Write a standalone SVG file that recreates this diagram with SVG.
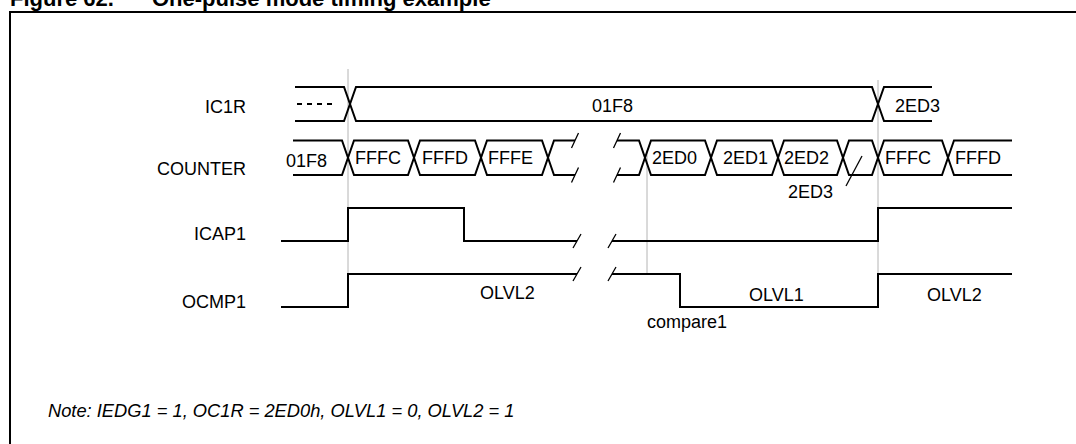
<svg xmlns="http://www.w3.org/2000/svg" width="1076" height="444" viewBox="0 0 1076 444">
<style>
.sig{fill:none;stroke:#000;stroke-width:2;stroke-linejoin:miter}
.sl{fill:none;stroke:#000;stroke-width:1.3}
.gr{fill:none;stroke:#b4b4b4;stroke-width:1}
.t{font-family:"Liberation Sans",Arial,sans-serif;font-size:18px;fill:#000}
.lb{text-anchor:end}
.note{font-style:italic;font-size:18.3px}
.ti{font-family:"Liberation Sans",Arial,sans-serif;font-size:22px;font-weight:bold;fill:#000}
</style>
<rect width="1076" height="444" fill="#fff"/>
<g id="title">
<text class="ti" x="10" y="6">Figure 62.</text>
<text class="ti" x="152" y="6">One-pulse mode timing example</text>
</g>
<path id="frame" d="M10,446 V12 H1078" fill="none" stroke="#000" stroke-width="2"/>
<g id="guides">
<path class="gr" d="M348,69 V274 M647,150 V274 M878,80 V274"/>
</g>
<g id="labels">
<text class="t lb" x="246" y="113">IC1R</text>
<text class="t lb" x="246" y="175">COUNTER</text>
<text class="t lb" x="246" y="240">ICAP1</text>
<text class="t lb" x="246" y="308">OCMP1</text>
</g>
<g id="ic1r">
<path class="sig" d="M295,87 H344 L356,121 H872 L884,87 H932"/>
<path class="sig" d="M295,121 H344 L356,87 H872 L884,121 H932"/>
<path class="sig" d="M297,104 H337" stroke-dasharray="5,5" stroke-width="1.5"/>
<text class="t" x="592" y="112">01F8</text>
<text class="t" x="895" y="112">2ED3</text>
</g>
<g id="counter">
<path class="sig" d="M293,140.5 H342 L354,175 H408 L420,140.5 H475 L487,175 H542 L554,140.5 H575"/>
<path class="sig" d="M293,175 H342 L354,140.5 H408 L420,175 H475 L487,140.5 H542 L554,175 H575"/>
<path class="sig" d="M617,140.5 H639 L651,175 H705 L717,140.5 H772 L784,175 H837 L849,140.5 H872 L884,175 H942 L954,140.5 H1012"/>
<path class="sig" d="M617,175 H639 L651,140.5 H705 L717,175 H772 L784,140.5 H837 L849,175 H872 L884,140.5 H942 L954,175 H1012"/>
<path class="sl" d="M571.5,148 L578.5,133 M571.5,182.5 L578.5,167.5 M613.5,148 L620.5,133 M613.5,182.5 L620.5,167.5"/>
<path class="sl" d="M862,156 L846,186"/>
<text class="t" x="286" y="167">01F8</text>
<text class="t" x="355" y="164">FFFC</text>
<text class="t" x="422" y="164">FFFD</text>
<text class="t" x="488" y="164">FFFE</text>
<text class="t" x="652" y="164">2ED0</text>
<text class="t" x="723" y="164">2ED1</text>
<text class="t" x="784" y="164">2ED2</text>
<text class="t" x="885" y="164">FFFC</text>
<text class="t" x="955" y="164">FFFD</text>
<text class="t" x="788" y="198">2ED3</text>
</g>
<g id="icap1">
<path class="sig" d="M281,241 H348 V208 H464 V241 H577"/>
<path class="sig" d="M612,241 H878 V208 H1012"/>
<path class="sl" d="M573,248 L581,234 M608,248 L616,234"/>
</g>
<g id="ocmp1">
<path class="sig" d="M281,307 H348 V274 H577"/>
<path class="sig" d="M612,274 H680 V307 H878 V274 H1012"/>
<path class="sl" d="M573,281 L581,267 M608,281 L616,267"/>
<text class="t" x="480" y="299">OLVL2</text>
<text class="t" x="749" y="301">OLVL1</text>
<text class="t" x="927" y="301">OLVL2</text>
<text class="t" x="647" y="328">compare1</text>
</g>
<g id="note">
<text class="t note" x="48" y="417">Note: IEDG1 = 1, OC1R = 2ED0h, OLVL1 = 0, OLVL2 = 1</text>
</g>
</svg>
